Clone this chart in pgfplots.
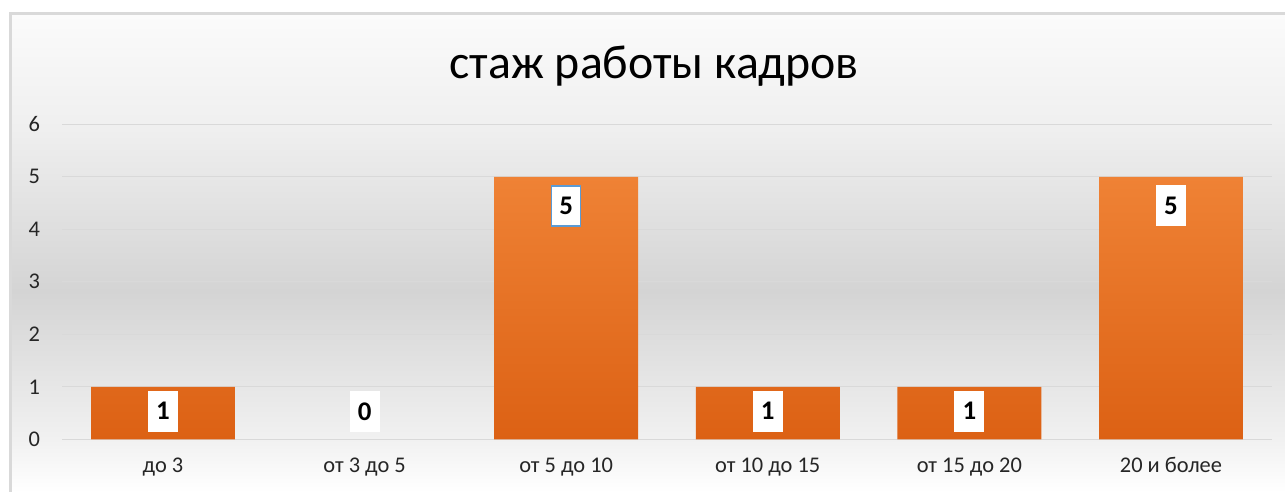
\documentclass[border=0pt]{standalone}
\usepackage{fontspec}
\setmainfont{Carlito}
\usepackage{pgfplots}
\pgfplotsset{compat=1.18}
\definecolor{barTop}{HTML}{EF8235}
\definecolor{barBot}{HTML}{DC6114}
\definecolor{gridc}{HTML}{D9D9D9}
\definecolor{bgmid}{HTML}{D4D4D4}
\definecolor{bglow}{HTML}{F1F1F1}
\definecolor{bghigh}{HTML}{EFEFEF}
\definecolor{bgtop}{HTML}{FBFBFB}
\definecolor{selb}{HTML}{5B9BD5}
\pgfdeclareverticalshading{bgshade}{100bp}{color(0bp)=(white); color(25bp)=(white); color(30.5bp)=(bglow); color(46bp)=(bgmid); color(63bp)=(bghigh); color(75bp)=(bgtop); color(100bp)=(bgtop)}
\begin{document}
\begin{tikzpicture}[x=1bp,y=1bp]
\useasboundingbox (0,0) rectangle (1285,492);
\fill[white] (0,0) rectangle (1285,492);
\shade[shading=bgshade] (11,0) rectangle (1285,478);
\draw[gridc, line width=3bp] (10,0) |- (1285,478.5);
\begin{axis}[
  at={(62.2bp,52.7bp)}, anchor=south west,
  scale only axis, width=1209.6bp, height=315bp,
  xmin=-0.5, xmax=5.5, ymin=0, ymax=6,
  axis line style={draw=none},
  major tick length=0pt,
  ytick={0,1,2,3,4,5,6},
  xtick={0,1,2,3,4,5},
  xticklabels={до 3, от 3 до 5, от 5 до 10, от 10 до 15, от 15 до 20, 20 и более},
  ymajorgrids,
  grid style={gridc, line width=1.3bp},
  /pgf/number format/assume math mode=true,
  tick label style={font=\fontsize{22.5}{22.5}\selectfont, text=black!85},
  yticklabel style={anchor=east, inner sep=0pt, xshift=-22bp},
  xticklabel style={anchor=base, inner sep=0pt, yshift=-33bp},
  title={стаж работы кадров},
  title style={font=\fontsize{48}{48}\selectfont, anchor=center, at={(0.4895,1)}, yshift=52bp, inner sep=0pt},
  clip=false,
]
\addplot[ybar, bar width=0.714, bar shift=0pt, draw=none, top color=barTop, bottom color=barBot,
  unbounded coords=discard, y filter/.expression={y==0 ? nan : y},
] coordinates {(0,1) (1,0) (2,5) (3,1) (4,1) (5,5)};
\addplot[draw=none, mark=none,
  nodes near coords={\pgfmathprintnumber[assume math mode=true]{\pgfplotspointmeta}},
  visualization depends on={rawy \as \rawy},
  every node near coord/.append style={font=\fontsize{27}{27}\bfseries\selectfont, text=black, fill=white, inner sep=0pt,
    minimum width=30bp, minimum height=41bp, anchor=center,
    yshift={ifthenelse(\rawy==0,27.8,ifthenelse(\rawy<3,-24.5,-29.3))}},
] coordinates {(0,1) (1,0) (2,5) (3,1) (4,1) (5,5)};
\addplot[draw=none, mark=none,
  nodes near coords={\pgfmathprintnumber[assume math mode=true]{\pgfplotspointmeta}},
  every node near coord/.append style={font=\fontsize{27}{27}\bfseries\selectfont, text=black, fill=white, draw=selb, line width=1.5bp, inner sep=0pt,
    minimum width=29bp, minimum height=40bp, anchor=center, yshift=-29.3},
] coordinates {(2,5)};
\end{axis}
\end{tikzpicture}
\end{document}
